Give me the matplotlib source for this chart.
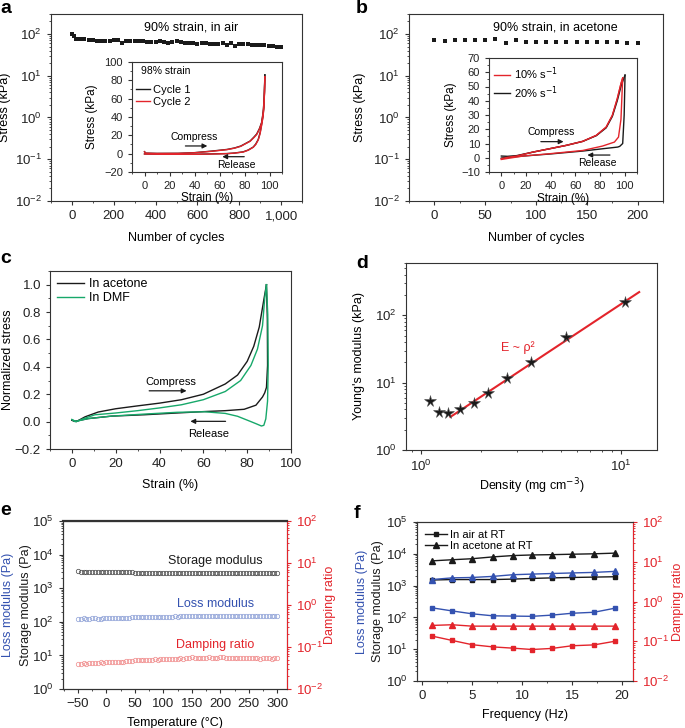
import numpy as np
import matplotlib
matplotlib.use("Agg")
import matplotlib.pyplot as plt
from matplotlib.ticker import MultipleLocator, NullFormatter, FuncFormatter

plt.rcParams['font.family'] = ['Liberation Sans', 'DejaVu Sans']
plt.rcParams['font.size'] = 9
plt.rcParams['axes.linewidth'] = 0.8
plt.rcParams['axes.edgecolor'] = '#333333'
plt.rcParams['xtick.major.size'] = 3
plt.rcParams['ytick.major.size'] = 3
plt.rcParams['xtick.minor.size'] = 1.5
plt.rcParams['ytick.minor.size'] = 1.5
plt.rcParams['xtick.labelsize'] = 9.5
plt.rcParams['ytick.labelsize'] = 9.5

BLACK = '#1a1a1a'
RED = '#e3242b'
GREEN = '#17a86a'
BLUE = '#3452b0'
LBLUE = '#8c9fd6'
LRED = '#f08a8a'

# ---- panel a: cycling in air ----
cycles_a = [0, 10] + list(range(20, 1001, 20))
stress_a = [100, 88, 75, 74, 74, 73, 72, 68, 67, 67, 66, 70, 71, 62, 68, 68, 68, 68,
            69, 65, 64, 63, 66, 65, 62, 64, 68, 63, 62, 60, 59, 57, 62, 61, 58, 58,
            58, 60, 55, 59, 52, 57, 56, 56, 55, 55, 54, 53, 52, 51, 50, 49]

# inset a
a_load_strain = [0, 1, 10, 27, 40, 53, 66, 72, 77, 81, 84.5, 87.5, 89.8, 92, 93.7, 95, 95.8, 96.3]
a_c1_load = [2.2, 0.6, 0.3, 0.4, 1.1, 2.7, 4.6, 6.2, 8.3, 11.2, 13.8, 18, 21.5, 27.5, 34, 46, 62, 86]
a_c2_load = [2.0, 0.5, 0.2, 0.3, 1.0, 2.5, 4.4, 6.0, 8.0, 11.0, 13.5, 17.5, 21, 27, 33.5, 45, 60, 84]
a_rel_strain = [96.3, 96, 95.5, 94.8, 93.7, 92.5, 91, 89, 87, 83, 79, 72, 66, 50, 40, 25, 13.6, 0]
a_c1_rel = [86, 68, 51, 41, 32, 23, 15.5, 10.5, 7.2, 4, 2, 0.7, 0.1, -0.4, -0.6, -0.6, -0.6, -0.3]
a_c2_rel = [84, 67, 50, 40, 31, 22, 15, 10, 7, 3.8, 1.8, 0.6, 0, -0.5, -0.7, -0.7, -0.7, -0.4]

# ---- panel b: cycling in acetone ----
cycles_b = list(range(0, 201, 10))
stress_b = [73, 67, 72, 70, 72, 70, 74, 62, 70, 65, 65, 65, 64, 65, 65, 64, 65, 65, 63, 60, 60]

# inset b
b_red_load_strain = [0, 5, 12.4, 25.8, 39, 52.7, 66, 77, 85, 90, 94, 97, 98.4]
b_red_load = [-0.7, 0.3, 1.2, 4, 6.3, 8.7, 11.5, 15.7, 21.5, 29.7, 41.4, 52, 56]
b_red_rel_strain = [98.4, 97, 95, 91.7, 82, 66, 39, 17.7, 5, 0]
b_red_rel = [56, 27, 14.5, 11, 8.2, 5.1, 2.8, 1.2, -0.5, -1.2]
b_blk_load_strain = [0, 5, 12.4, 25.8, 39, 52.7, 66, 77, 85, 90, 94, 97, 99, 100.3]
b_blk_load = [1.2, 1.0, 1.5, 4, 6.3, 8.7, 11.5, 15.5, 21, 29, 40, 50, 55, 58]
b_blk_rel_strain = [100.3, 99.6, 98.4, 96, 94.4, 82, 66, 39, 17.7, 5, 0]
b_blk_rel = [58, 30, 10, 8, 7.5, 6.3, 4.7, 2.6, 1.2, 0.2, -0.2]

# ---- panel c: normalized stress-strain ----
ace_load_strain = [0, 2, 6, 12, 20, 30, 40, 50, 60, 70, 75.6, 80, 83, 85.5, 87.7, 88.8]
ace_load = [0.01, 0.0, 0.035, 0.07, 0.094, 0.115, 0.135, 0.16, 0.2, 0.275, 0.34, 0.44, 0.55, 0.69, 0.9, 1.0]
ace_rel_strain = [88.8, 89.2, 89.3, 88.8, 88, 87, 84, 78.6, 70, 60, 48, 33, 18, 7.4, 1.4, 0]
ace_rel = [1.0, 0.75, 0.41, 0.25, 0.21, 0.18, 0.12, 0.09, 0.08, 0.073, 0.063, 0.05, 0.04, 0.022, 0.002, 0.01]
dmf_load_strain = [0, 2, 5, 10.5, 20, 30, 40, 50, 60, 70, 77, 81.7, 84.7, 87, 88, 88.8]
dmf_load = [0.015, 0.0, 0.02, 0.05, 0.063, 0.08, 0.1, 0.123, 0.16, 0.22, 0.3, 0.41, 0.53, 0.7, 0.9, 1.0]
dmf_rel_strain = [88.8, 89.4, 89.6, 89.3, 88.5, 87.6, 86.5, 84, 81.7, 75.6, 70, 60.5, 48, 33, 18, 7.4, 1.4, 0]
dmf_rel = [1.0, 0.78, 0.41, 0.15, 0.02, -0.027, -0.032, -0.015, 0.0, 0.039, 0.06, 0.072, 0.068, 0.055,
           0.04, 0.022, 0.0, 0.015]

# ---- panel d: modulus vs density ----
density = [1.11, 1.23, 1.37, 1.57, 1.83, 2.17, 2.68, 3.54, 5.29, 10.5]
modulus = [5.4, 3.7, 3.6, 4.1, 5.0, 7.1, 11.8, 20.3, 47.7, 160]
fit_density = [1.40, 12.3]
fit_modulus = [3.1, 222]

# ---- panel e: temperature sweep ----
temperature = np.arange(-50, 305, 5)
storage_e = [3150, 3140, 3130, 3120, 3100, 3090, 3080, 3060, 3050, 3040,
             3030, 3020, 3000, 2990, 2980, 2970, 2960, 2950, 2950, 2940,
             2930, 2930, 2920, 2920, 2910, 2910, 2900, 2900, 2890, 2890,
             2880, 2880, 2880, 2870, 2870, 2870, 2860, 2860, 2860, 2850,
             2850, 2850, 2850, 2840, 2840, 2840, 2840, 2830, 2830, 2830,
             2830, 2820, 2820, 2820, 2820, 2810, 2810, 2810, 2810, 2800,
             2800, 2800, 2800, 2800, 2790, 2790, 2790, 2790, 2790, 2780, 2780]
loss_e = [125, 124, 126, 125, 123, 126, 127, 125, 124, 128,
          129, 128, 131, 130, 132, 131, 133, 134, 132, 135,
          136, 135, 137, 138, 136, 139, 140, 138, 141, 140,
          142, 141, 143, 142, 144, 143, 145, 146, 144, 147,
          148, 150, 147, 149, 151, 148, 150, 149, 152, 150,
          151, 149, 152, 150, 148, 151, 150, 152, 149, 151,
          150, 152, 151, 149, 150, 153, 151, 150, 152, 151, 150]
damping_e = [0.040, 0.040, 0.041, 0.040, 0.041, 0.042, 0.041, 0.042, 0.043, 0.042,
             0.043, 0.044, 0.043, 0.044, 0.045, 0.044, 0.045, 0.046, 0.047, 0.046,
             0.048, 0.049, 0.048, 0.049, 0.050, 0.049, 0.050, 0.051, 0.050, 0.051,
             0.052, 0.051, 0.052, 0.053, 0.052, 0.053, 0.054, 0.053, 0.054, 0.055,
             0.057, 0.056, 0.055, 0.056, 0.055, 0.056, 0.057, 0.056, 0.055, 0.056,
             0.057, 0.058, 0.056, 0.055, 0.056, 0.055, 0.054, 0.055, 0.056, 0.054,
             0.055, 0.054, 0.055, 0.054, 0.053, 0.054, 0.055, 0.054, 0.053, 0.054, 0.054]

# ---- panel f: frequency sweep ----
frequency = [1, 3, 5, 7.1, 9.1, 11, 13, 15, 17.2, 19.3]
storage_ace = [6000, 6500, 7000, 8000, 8800, 9200, 9400, 9700, 10000, 10500]
loss_ace = [1550, 1750, 1800, 1950, 2200, 2300, 2400, 2500, 2600, 2800]
storage_air = [1500, 1550, 1550, 1550, 1600, 1680, 1750, 1800, 1850, 1900]
loss_air = [200, 160, 130, 112, 110, 108, 118, 135, 145, 195]
damping_ace = [0.25, 0.26, 0.24, 0.24, 0.24, 0.24, 0.24, 0.24, 0.24, 0.24]
damping_air = [0.135, 0.105, 0.082, 0.072, 0.067, 0.062, 0.066, 0.077, 0.081, 0.10]

W, H = 685, 728
fig = plt.figure(figsize=(W / 100, H / 100), dpi=100)


def add_ax(l, t, r, b):
    # pixel box -> figure fraction
    return fig.add_axes([l / W, 1 - b / H, (r - l) / W, (b - t) / H])


def style(ax):
    ax.tick_params(which='both', direction='out', top=False, right=False, colors='#333333',
                   labelcolor='#222222')


def panel_label(x, y, s):
    fig.text(x / W, 1 - y / H, s, fontsize=14, fontweight='bold', va='baseline', ha='left')


def arrow(ax, x0, x1, y):
    ax.annotate('', xy=(x1, y), xytext=(x0, y),
                arrowprops=dict(arrowstyle='-|>', color=BLACK, lw=0.9, mutation_scale=7))


# ================= a =================
ax = add_ax(51, 14, 302, 201)
style(ax)
ax.plot(cycles_a, stress_a, 's', color=BLACK, ms=2.3, mew=0)
ax.set_yscale('log')
ax.set_ylim(1e-2, 300)
ax.set_xlim(-100, 1100)
ax.xaxis.set_major_locator(MultipleLocator(200))
ax.xaxis.set_minor_locator(MultipleLocator(100))
ax.xaxis.set_major_formatter(FuncFormatter(lambda v, p: f'{int(v):,}'))
ax.set_xlabel('Number of cycles', fontsize=9)
ax.set_ylabel('Stress (kPa)', fontsize=9)
ax.xaxis.set_label_coords(0.5, -0.165)
ax.yaxis.set_label_coords(-0.16, 0.5)
ax.text(0.56, 0.93, '90% strain, in air', transform=ax.transAxes, ha='center', va='center', fontsize=9)

ins = add_ax(132, 62, 282, 172)
style(ins)
ins.plot(a_load_strain, a_c1_load, color=BLACK, lw=1.0, label='Cycle 1')
ins.plot(a_rel_strain, a_c1_rel, color=BLACK, lw=1.0)
ins.plot(a_load_strain, a_c2_load, color=RED, lw=1.0, label='Cycle 2')
ins.plot(a_rel_strain, a_c2_rel, color=RED, lw=1.0)
ins.set_xlim(-10, 110)
ins.set_ylim(-20, 100)
ins.xaxis.set_major_locator(MultipleLocator(20))
ins.xaxis.set_minor_locator(MultipleLocator(10))
ins.yaxis.set_major_locator(MultipleLocator(20))
ins.yaxis.set_minor_locator(MultipleLocator(10))
ins.tick_params(labelsize=8)
ins.set_xlabel('Strain (%)', fontsize=8.5)
ins.set_ylabel('Stress (kPa)', fontsize=8.5)
ins.xaxis.set_label_coords(0.5, -0.18)
ins.yaxis.set_label_coords(-0.23, 0.5)
ins.text(0.06, 0.92, '98% strain', transform=ins.transAxes, fontsize=7.5, va='center')
ins.legend(loc='upper left', bbox_to_anchor=(-0.02, 0.85), frameon=False, fontsize=8,
           handlelength=1.3, handletextpad=0.3, labelspacing=0.15, borderaxespad=0.2)
arrow(ins, 30.5, 52.5, 8.4)
arrow(ins, 82, 60, -3.3)
ins.text(40, 18, 'Compress', ha='center', va='center', fontsize=7.5)
ins.text(73.5, -12.5, 'Release', ha='center', va='center', fontsize=7.5)

# ================= b =================
ax = add_ax(409, 14, 663, 201)
style(ax)
ax.plot(cycles_b, stress_b, 's', color=BLACK, ms=2.7, mew=0)
ax.set_yscale('log')
ax.set_ylim(1e-2, 300)
ax.set_xlim(-25, 225)
ax.xaxis.set_major_locator(MultipleLocator(50))
ax.xaxis.set_minor_locator(MultipleLocator(25))
ax.set_xlabel('Number of cycles', fontsize=9)
ax.set_ylabel('Stress (kPa)', fontsize=9)
ax.xaxis.set_label_coords(0.5, -0.165)
ax.yaxis.set_label_coords(-0.17, 0.5)
ax.text(0.575, 0.93, '90% strain, in acetone', transform=ax.transAxes, ha='center', va='center',
        fontsize=9)

ins = add_ax(489, 58, 637, 172)
style(ins)
ins.plot(b_red_load_strain, b_red_load, color=RED, lw=1.0, label='10% s$^{-1}$')
ins.plot(b_blk_load_strain, b_blk_load, color=BLACK, lw=1.0, label='20% s$^{-1}$')
ins.plot(b_blk_rel_strain, b_blk_rel, color=BLACK, lw=1.0)
ins.plot(b_red_rel_strain, b_red_rel, color=RED, lw=1.0)
ins.plot(b_red_load_strain, b_red_load, color=RED, lw=1.0)
ins.set_xlim(-10, 110)
ins.set_ylim(-10, 70)
ins.xaxis.set_major_locator(MultipleLocator(20))
ins.xaxis.set_minor_locator(MultipleLocator(10))
ins.yaxis.set_major_locator(MultipleLocator(10))
ins.yaxis.set_minor_locator(MultipleLocator(5))
ins.tick_params(labelsize=8)
ins.set_xlabel('Strain (%)', fontsize=8.5)
ins.set_ylabel('Stress (kPa)', fontsize=8.5)
ins.xaxis.set_label_coords(0.5, -0.185)
ins.yaxis.set_label_coords(-0.215, 0.5)
ins.legend(loc='upper left', bbox_to_anchor=(-0.02, 1.0), frameon=False, fontsize=8,
           handlelength=1.5, handletextpad=0.3, labelspacing=0.15, borderaxespad=0.3)
arrow(ins, 29.8, 52.7, 11.3)
arrow(ins, 90.3, 67.5, 1.9)
ins.text(40.6, 18.3, 'Compress', ha='center', va='center', fontsize=7.5)
ins.text(78, -4, 'Release', ha='center', va='center', fontsize=7.5)

# ================= c =================
ax = add_ax(50, 271, 291, 449)
style(ax)
ax.plot(ace_load_strain, ace_load, color=BLACK, lw=1.0, label='In acetone')
ax.plot(ace_rel_strain, ace_rel, color=BLACK, lw=1.0)
ax.plot(dmf_load_strain, dmf_load, color=GREEN, lw=1.0, label='In DMF')
ax.plot(dmf_rel_strain, dmf_rel, color=GREEN, lw=1.0)
ax.set_xlim(-10, 100)
ax.set_ylim(-0.2, 1.1)
ax.xaxis.set_major_locator(MultipleLocator(20))
ax.xaxis.set_minor_locator(MultipleLocator(10))
ax.yaxis.set_major_locator(MultipleLocator(0.2))
ax.yaxis.set_minor_locator(MultipleLocator(0.1))
ax.yaxis.set_major_formatter(FuncFormatter(lambda v, p: f'{v:.1f}'.replace('-', '\u2212')))
ax.set_xlabel('Strain (%)', fontsize=9)
ax.set_ylabel('Normalized stress', fontsize=9)
ax.xaxis.set_label_coords(0.5, -0.17)
ax.yaxis.set_label_coords(-0.15, 0.5)
ax.legend(loc='upper left', frameon=False, fontsize=9, handlelength=2.2, handletextpad=0.4,
          labelspacing=0.2, borderaxespad=0.15)
arrow(ax, 34, 53.6, 0.225)
arrow(ax, 71.4, 52.8, 0.002)
ax.text(45, 0.29, 'Compress', ha='center', va='center', fontsize=8)
ax.text(62.4, -0.087, 'Release', ha='center', va='center', fontsize=8)

# ================= d =================
ax = add_ax(406, 263, 657, 450)
style(ax)
ax.plot(fit_density, fit_modulus, color=RED, lw=1.5)
ax.plot(density, modulus, '*', color=BLACK, ms=8.5, mec='#555555', mew=0.4)
ax.set_xscale('log')
ax.set_yscale('log')
ax.set_xlim(0.84, 15.1)
ax.set_ylim(1, 600)
ax.xaxis.set_minor_formatter(NullFormatter())
ax.yaxis.set_minor_formatter(NullFormatter())
ax.set_xlabel('Density (mg cm$^{-3}$)', fontsize=9)
ax.set_ylabel("Young's modulus (kPa)", fontsize=9)
ax.xaxis.set_label_coords(0.5, -0.14)
ax.yaxis.set_label_coords(-0.165, 0.5)
ax.text(3.05, 33, 'E ~ \u03c1\u00b2', color=RED, ha='center', va='center', fontsize=9)

# ================= e =================
ax = add_ax(63, 521, 287, 689)
style(ax)
ax.plot(temperature, storage_e, 'o', mfc='none', mec='#444444', ms=3.2, mew=0.5)
ax.plot(temperature, loss_e, 'o', mfc='none', mec=LBLUE, ms=3.2, mew=0.5)
ax.set_yscale('log')
ax.set_ylim(1, 1e5)
ax.set_xlim(-76, 317)
ax.xaxis.set_major_locator(MultipleLocator(50))
ax.xaxis.set_minor_locator(MultipleLocator(25))
ax.yaxis.set_minor_formatter(NullFormatter())
ax.set_xlabel('Temperature (\u00b0C)', fontsize=9)
ax.xaxis.set_label_coords(0.5, -0.165)
ax.text(-0.165, 0.5, 'Storage modulus (Pa)', transform=ax.transAxes, rotation=90,
        ha='center', va='center', fontsize=9, color=BLACK)
ax.text(-0.245, 0.5, 'Loss modulus (Pa)', transform=ax.transAxes, rotation=90,
        ha='center', va='center', fontsize=9, color=BLUE)
ax.spines['top'].set_linewidth(1.6)
ax2 = ax.twinx()
ax2.plot(temperature, damping_e, 'o', mfc='none', mec=LRED, ms=3.2, mew=0.5)
ax2.set_yscale('log')
ax2.set_ylim(1e-2, 1e2)
ax2.yaxis.set_minor_formatter(NullFormatter())
ax2.spines['right'].set_color(RED)
ax2.tick_params(axis='y', which='both', direction='out', colors=RED, labelcolor=RED)
ax2.text(1.19, 0.5, 'Damping ratio', transform=ax2.transAxes, rotation=90,
         ha='center', va='center', fontsize=9, color=RED)
ax.text(191, 6500, 'Storage modulus', ha='center', va='center', fontsize=9, color=BLACK)
ax.text(191, 340, 'Loss modulus', ha='center', va='center', fontsize=9, color=BLUE)
ax.text(191, 20, 'Damping ratio', ha='center', va='center', fontsize=9, color=RED)

# ================= f =================
ax = add_ax(417, 522, 633, 681)
style(ax)
l1, = ax.plot(frequency, storage_air, '-s', color=BLACK, ms=3.5, lw=1.0, label='In air at RT')
l2, = ax.plot(frequency, storage_ace, '-^', color=BLACK, ms=4, lw=1.0, label='In acetone at RT')
ax.plot(frequency, loss_ace, '-^', color=BLUE, ms=4, lw=1.0)
ax.plot(frequency, loss_air, '-s', color=BLUE, ms=3.5, lw=1.0)
ax.set_yscale('log')
ax.set_ylim(1, 1e5)
ax.set_xlim(-0.5, 21.1)
ax.xaxis.set_major_locator(MultipleLocator(5))
ax.xaxis.set_minor_locator(MultipleLocator(2.5))
ax.yaxis.set_minor_formatter(NullFormatter())
ax.set_xlabel('Frequency (Hz)', fontsize=9)
ax.xaxis.set_label_coords(0.5, -0.175)
ax.text(-0.18, 0.5, 'Storage modulus (Pa)', transform=ax.transAxes, rotation=90,
        ha='center', va='center', fontsize=9, color=BLACK)
ax.text(-0.255, 0.5, 'Loss modulus (Pa)', transform=ax.transAxes, rotation=90,
        ha='center', va='center', fontsize=9, color=BLUE)
ax2 = ax.twinx()
ax2.plot(frequency, damping_ace, '-^', color=RED, ms=4, lw=1.0)
ax2.plot(frequency, damping_air, '-s', color=RED, ms=3.5, lw=1.0)
ax2.set_yscale('log')
ax2.set_ylim(1e-2, 1e2)
ax2.yaxis.set_minor_formatter(NullFormatter())
ax2.spines['right'].set_color(RED)
ax2.tick_params(axis='y', which='both', direction='out', colors=RED, labelcolor=RED)
ax2.text(1.21, 0.5, 'Damping ratio', transform=ax2.transAxes, rotation=90,
         ha='center', va='center', fontsize=9, color=RED)
ax2.legend([l1, l2], ['In air at RT', 'In acetone at RT'], loc='upper left', frameon=False,
           fontsize=8, handlelength=2.0, handletextpad=0.3, labelspacing=0.1, borderaxespad=0.3)

panel_label(0, 13, 'a')
panel_label(356, 13, 'b')
panel_label(0, 263, 'c')
panel_label(356, 268, 'd')
panel_label(0, 515, 'e')
panel_label(354, 518, 'f')

fig.savefig('out.png', dpi=100)
